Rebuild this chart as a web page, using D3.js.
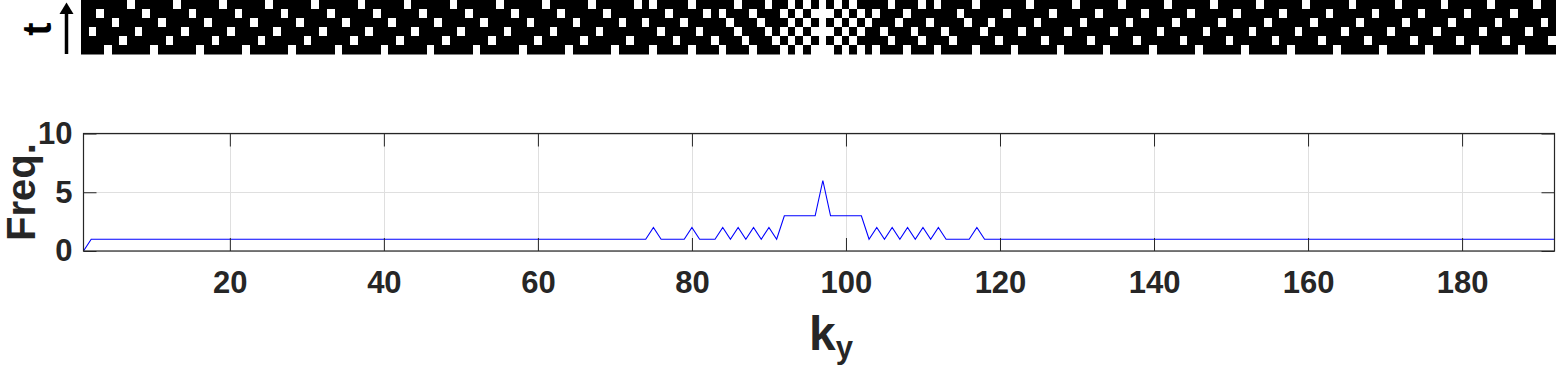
<!DOCTYPE html>
<meta charset="utf-8">
<style>
  body { margin: 0; background: #fff; }
  text { font-family: "Liberation Sans", Arial, Helvetica, sans-serif; font-weight: bold; }
</style>
<script src="https://cdn.jsdelivr.net/npm/d3@7/dist/d3.min.js"></script>
<div id="chart"></div>
<script>

// sampled k_y lines per time frame (top row of the mask = last frame)
var t6 = [7,13,19,25,31,37,43,49,55,61,67,73,75,80,86,90,93,95,97,99,101,106,110,112,117,124,130,136,142,148,154,160,166,172,178,184,190];
var t5 = [3,9,15,21,27,33,39,45,51,57,63,69,77,82,84,88,92,94,96,97,98,100,102,104,108,115,121,127,133,139,145,151,157,163,169,175,181,187];
var t4 = [5,11,17,23,29,35,41,47,53,59,65,71,74,79,85,89,93,95,97,99,101,103,107,111,116,119,125,131,137,143,149,155,161,167,173,179,185,191];
var t3 = [2,8,14,20,26,32,38,44,50,56,62,68,76,81,86,90,92,94,96,97,98,100,102,105,109,113,118,123,129,135,141,147,153,159,165,171,177,183,189];
var t2 = [6,12,18,24,30,36,42,48,54,60,66,72,78,83,87,91,93,95,97,99,101,106,110,114,120,126,132,138,144,150,156,162,168,174,180,186,192];
var t1 = [4,10,16,22,28,34,40,46,52,58,64,70,75,80,84,88,92,94,96,97,98,100,102,104,108,112,117,122,128,134,140,146,152,158,164,170,176,182,188];
var frames = ["t6", "t5", "t4", "t3", "t2", "t1"];
var frameLines = [t6, t5, t4, t3, t2, t1];

// sampling frequency per k_y (1..192)
var freq = [
  0,1,1,1,1,1,1,1,1,1,1,1,1,1,1,1,1,1,1,1,1,1,1,1,
  1,1,1,1,1,1,1,1,1,1,1,1,1,1,1,1,1,1,1,1,1,1,1,1,
  1,1,1,1,1,1,1,1,1,1,1,1,1,1,1,1,1,1,1,1,1,1,1,1,
  1,1,2,1,1,1,1,2,1,1,1,2,1,2,1,2,1,2,1,3,3,3,3,3,
  6,3,3,3,3,3,1,2,1,2,1,2,1,2,1,2,1,1,1,1,2,1,1,1,
  1,1,1,1,1,1,1,1,1,1,1,1,1,1,1,1,1,1,1,1,1,1,1,1,
  1,1,1,1,1,1,1,1,1,1,1,1,1,1,1,1,1,1,1,1,1,1,1,1,
  1,1,1,1,1,1,1,1,1,1,1,1,1,1,1,1,1,1,1,1,1,1,1,1
];
var xTicks = [20, 40, 60, 80, 100, 120, 140, 160, 180];
var yTicks = [0, 5, 10];

var W = 1556, H = 367;
var axisColor = "#262626";

var svg = d3.select("#chart")
  .append("svg")
    .attr("width", W)
    .attr("height", H)

// ---- mask image on top ----
var xImg = d3.scaleLinear()
  .domain([0.5, 192.5])
  .range([81, 1556])
var yImg = d3.scaleBand()
  .domain(frames)
  .range([0, 54.5])

svg.append("rect")
  .attr("x", xImg(0.5))
  .attr("y", 0)
  .attr("width", xImg(192.5) - xImg(0.5))
  .attr("height", yImg.range()[1])
  .style("fill", "black")

frames.forEach(function(f, i) {
  svg.append("g")
    .selectAll("rect")
    .data(frameLines[i])
    .enter()
    .append("rect")
      .attr("x", function(k) { return xImg(k - 0.5) })
      .attr("y", yImg(f))
      .attr("width", function(k) { return xImg(k + 0.5) - xImg(k - 0.5) })
      .attr("height", yImg.bandwidth())
      .style("fill", "white")
      .attr("shape-rendering", "crispEdges")
})

// time arrow and label
svg.append("path")
  .attr("d", "M66.5,54 L66.5,12")
  .style("stroke", "black")
  .style("stroke-width", 3.5)
svg.append("path")
  .attr("d", "M59.5,14 L73.5,14 L66.5,2.5 Z")
  .style("fill", "black")
svg.append("text")
  .attr("transform", "translate(51,29) rotate(-90)")
  .attr("text-anchor", "middle")
  .style("font-size", "40px")
  .style("fill", "black")
  .text("t")

// ---- frequency plot ----
var margin = {top: 133.5, left: 83.5, right: 1554.5, bottom: 251}
var x = d3.scaleLinear()
  .domain([1, 192])
  .range([margin.left, margin.right])
var y = d3.scaleLinear()
  .domain([0, 10])
  .range([margin.bottom, margin.top])

// grid
var grid = svg.append("g").style("stroke", "#dfdfdf").style("stroke-width", 1)
grid.selectAll("line.gx")
  .data(xTicks)
  .enter().append("line")
    .attr("x1", function(d) { return Math.round(x(d)) + 0.5 })
    .attr("x2", function(d) { return Math.round(x(d)) + 0.5 })
    .attr("y1", margin.top)
    .attr("y2", margin.bottom)
grid.selectAll("line.gy")
  .data(yTicks)
  .enter().append("line")
    .attr("y1", function(d) { return Math.round(y(d)) + 0.5 })
    .attr("y2", function(d) { return Math.round(y(d)) + 0.5 })
    .attr("x1", margin.left)
    .attr("x2", margin.right)

// data line
var line = d3.line()
  .x(function(d, i) { return x(i + 1) })
  .y(function(d) { return y(d) })
svg.append("path")
  .datum(freq)
  .attr("d", line)
  .style("fill", "none")
  .style("stroke", "#0000ff")
  .style("stroke-width", 1.1)

// axes (MATLAB style: ticks inside, box on)
svg.append("g")
  .attr("transform", "translate(0," + margin.bottom + ")")
  .call(d3.axisBottom(x).tickValues(xTicks).tickSize(-13).tickPadding(20).tickSizeOuter(0))
svg.append("g")
  .attr("transform", "translate(0," + margin.top + ")")
  .call(d3.axisTop(x).tickValues(xTicks).tickSize(-13).tickFormat("").tickSizeOuter(0))
svg.append("g")
  .attr("transform", "translate(" + margin.left + ",0)")
  .call(d3.axisLeft(y).tickValues(yTicks).tickSize(-13).tickPadding(11).tickSizeOuter(0))
svg.append("g")
  .attr("transform", "translate(" + margin.right + ",0)")
  .call(d3.axisRight(y).tickValues(yTicks).tickSize(-13).tickFormat("").tickSizeOuter(0))

svg.selectAll(".domain").remove()
svg.selectAll(".tick line").style("stroke", axisColor)
svg.selectAll(".tick text")
  .style("font-size", "31px")
  .style("font-family", "'Liberation Sans', Arial, sans-serif")
  .style("font-weight", "bold")
  .style("fill", axisColor)

// box
svg.append("rect")
  .attr("x", margin.left)
  .attr("y", margin.top)
  .attr("width", margin.right - margin.left)
  .attr("height", margin.bottom - margin.top)
  .style("fill", "none")
  .style("stroke", axisColor)
  .style("stroke-width", 1.2)

// axis labels
svg.append("text")
  .attr("transform", "translate(35,192) rotate(-90)")
  .attr("text-anchor", "middle")
  .style("font-size", "40px")
  .style("fill", axisColor)
  .text("Freq.")

var xl = svg.append("text")
  .attr("x", 809)
  .attr("y", 350)
  .style("font-size", "48px")
  .style("fill", axisColor)
xl.append("tspan").text("k")
xl.append("tspan")
  .attr("dy", 8)
  .style("font-size", "31px")
  .text("y")

</script>
